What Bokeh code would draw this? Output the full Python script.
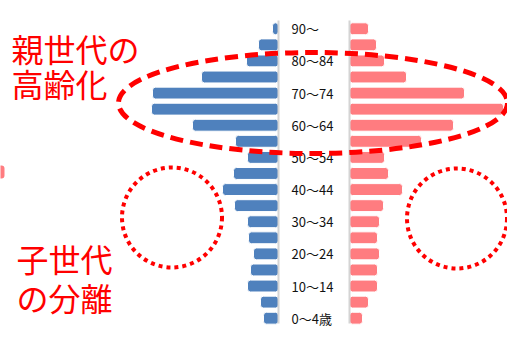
from bokeh.plotting import figure
from bokeh.models import Range1d, ColumnDataSource
from bokeh.core.properties import value
from bokeh.embed import file_html
from bokeh.resources import INLINE

# Age groups, youngest first
age_groups = ["0〜4歳", "5〜9", "10〜14", "15〜19", "20〜24", "25〜29", "30〜34",
              "35〜39", "40〜44", "45〜49", "50〜54", "55〜59", "60〜64", "65〜69",
              "70〜74", "75〜79", "80〜84", "85〜89", "90〜"]
male = [15, 18, 31, 28, 25, 30, 31, 44, 56, 45, 31, 43, 86, 127, 126, 77, 32, 20, 6]
female = [13, 19, 28, 28, 30, 28, 30, 34, 53, 39, 35, 72, 104, 154, 115, 57, 35, 27, 19]
# only every other group gets a printed label
shown_labels = ["0〜4歳", "10〜14", "20〜24", "30〜34", "40〜44", "50〜54",
                "60〜64", "70〜74", "80〜84", "90〜"]

W, H = 507, 338
X0 = 313.5      # canvas x of the centre of the label column
GAP = 35.5      # half width of the label column
Y0 = 317.7      # canvas y of the youngest row
DY = 16.08      # row pitch in pixels

def cx(xpx):
    return xpx - X0

def cy(ypx):
    return (Y0 - ypx) / DY

BLUE = "#4f81bd"
PINK = "#ff7c80"
RED = "#ff0000"
JP = value("Noto Sans CJK JP")

p = figure(width=W, height=H, output_backend="svg", toolbar_location=None,
           x_range=Range1d(cx(0), cx(W)), y_range=Range1d(cy(H), cy(0)),
           min_border=0, background_fill_color="white", border_fill_color="white")
p.axis.visible = False
p.grid.visible = False
p.outline_line_color = None

rows = list(range(len(age_groups)))
src = ColumnDataSource(dict(
    y=rows,
    m_left=[-GAP - v for v in male], m_right=[-GAP] * len(rows),
    f_left=[GAP] * len(rows), f_right=[GAP + v for v in female],
))

p.hbar(y="y", left="m_left", right="m_right", height=0.74, source=src,
       fill_color=BLUE, line_color="white", line_width=1, border_radius=3)
p.hbar(y="y", left="f_left", right="f_right", height=0.74, source=src,
       fill_color=PINK, line_color="white", line_width=1, border_radius=3)

# centre axis lines of each half
p.segment(x0=[-GAP, GAP], y0=[cy(20)] * 2, x1=[-GAP, GAP], y1=[cy(323)] * 2,
          line_color="#d4d4d4", line_width=2)

# age labels in the middle column
lab_rows = [age_groups.index(s) for s in shown_labels]
p.text(x=[cx(291)] * len(lab_rows), y=lab_rows, text=shown_labels,
       text_font=JP, text_font_size="13px", text_color="#111111",
       text_baseline="middle", text_align="left")

# dashed ellipse around the elderly bulge
p.ellipse(x=[cx(312.5)], y=[cy(102.5)], width=[389], height=[101],
          width_units="screen", height_units="screen",
          fill_alpha=0, line_color=RED, line_width=5, line_dash="13 7")

# dotted circles around the missing child generation
p.ellipse(x=[cx(171.5), cx(456.5)], y=[cy(217), cy(218)], width=[100, 100],
          height=[100, 100], width_units="screen", height_units="screen",
          fill_alpha=0, line_color=RED, line_width=4, line_dash="4 4")

# callout texts
p.text(x=[cx(11), cx(11)], y=[cy(24), cy(59)], text=["親世代の", "高齢化"],
       text_font=JP, text_font_size="32px", text_color=RED,
       text_baseline="top", text_align="left")
p.text(x=[cx(16), cx(16)], y=[cy(234), cy(273)], text=["子世代", "の分離"],
       text_font=JP, text_font_size="32px", text_color=RED,
       text_baseline="top", text_align="left")

# small pink tab at the left edge
p.quad(left=[cx(-6)], right=[cx(4)], top=[cy(165)], bottom=[cy(178)],
       fill_color=PINK, line_color=None, border_radius=3)

open("out.html", "w").write(file_html(p, INLINE))
